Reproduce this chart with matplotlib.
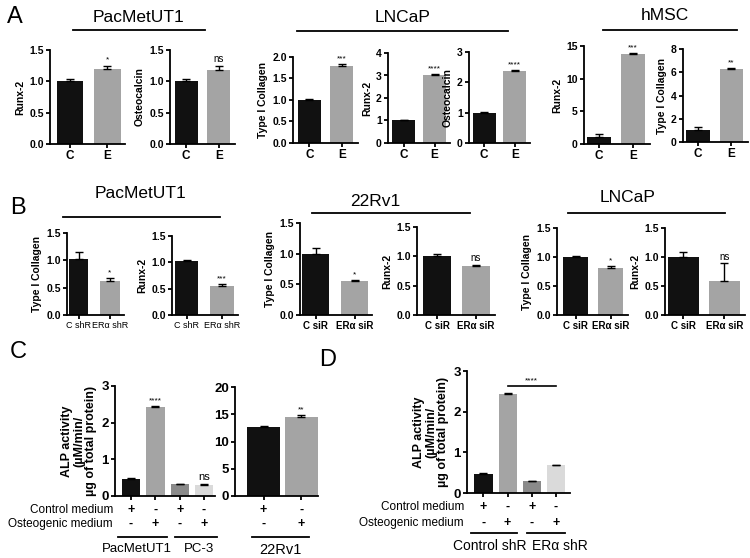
import matplotlib
matplotlib.use('Agg')
import matplotlib.pyplot as plt
from matplotlib import transforms

W, H = 750, 558
plt.rcParams['font.family'] = ['Liberation Sans', 'DejaVu Sans']

# ---- panel A : control (C) vs estrogen (E)
ce_labels = ['C', 'E']
pac_runx2 = [1.00, 1.20]
pac_runx2_err = [0.04, 0.05]
pac_osteo = [1.00, 1.18]
pac_osteo_err = [0.03, 0.06]
lncap_col1 = [1.00, 1.78]
lncap_col1_err = [0.02, 0.06]
lncap_runx2 = [1.00, 3.02]
lncap_runx2_err = [0.0, 0.04]
lncap_osteo = [1.00, 2.37]
lncap_osteo_err = [0.03, 0.04]
hmsc_runx2 = [1.00, 13.7]
hmsc_runx2_err = [0.5, 0.25]
hmsc_col1 = [1.00, 6.3]
hmsc_col1_err = [0.3, 0.05]

# ---- panel B : knockdown
shr_labels = ['C shR', 'ERα shR']
sir_labels = ['C siR', 'ERα siR']
pacb_col1 = [1.03, 0.63]
pacb_col1_err = [0.12, 0.04]
pacb_runx2 = [1.02, 0.56]
pacb_runx2_err = [0.02, 0.02]
rv_col1 = [1.00, 0.55]
rv_col1_err = [0.10, 0.02]
rv_runx2 = [1.00, 0.83]
rv_runx2_err = [0.04, 0.03]
lnb_col1 = [1.00, 0.81]
lnb_col1_err = [0.02, 0.03]
lnb_runx2 = [1.00, 0.58]
lnb_runx2_err = [0.08, 0.31]

# ---- panel C / D : ALP activity
control_medium = ['+', '-', '+', '-']
osteo_medium = ['-', '+', '-', '+']
c_alp = [0.47, 2.43, 0.33, 0.31]
c_alp_err = [0.01, 0.02, 0.0, 0.02]
c_groups = ['PacMetUT1', 'PC-3']
rv_alp = [12.6, 14.5]
rv_alp_err = [0.2, 0.3]
d_alp = [0.47, 2.43, 0.29, 0.68]
d_alp_err = [0.01, 0.02, 0.01, 0.02]
d_groups = ['Control shR', 'ERα shR']

BLACK = '#111111'
GREY = '#a4a4a4'
DGREY = '#8a8a8a'
LGREY = '#dadada'

fig = plt.figure(figsize=(W / 100, H / 100), dpi=100)


def px_axes(left, top, right, bottom):
    return fig.add_axes([left / W, 1 - bottom / H, (right - left) / W, (bottom - top) / H])


def fy(py):
    return 1 - py / H


def bar_panel(rect, vals, errs, colors, ylim, yticks, fmt, ylabel, xlim, width,
              xlabels=None, xl_bold=True, xl_size=8.5, sig=None, tick_size=7.5, ylab_size=7.5):
    ax = px_axes(*rect)
    x = list(range(len(vals)))
    ax.bar(x, vals, width=width, color=colors, edgecolor='none', zorder=2)
    ax.errorbar(x, vals, yerr=[[0] * len(vals), errs], fmt='none', ecolor='black',
                elinewidth=1, capsize=3, capthick=1, zorder=3)
    ax.set_xlim(*xlim)
    ax.set_ylim(*ylim)
    ax.set_yticks(yticks)
    ax.set_yticklabels([fmt.format(v) for v in yticks], fontsize=tick_size, fontweight='bold')
    ax.set_xticks(x)
    if xlabels is not None:
        ax.set_xticklabels(xlabels, fontsize=xl_size, fontweight='bold' if xl_bold else 'normal')
    else:
        ax.set_xticklabels([])
    for s in ['top', 'right']:
        ax.spines[s].set_visible(False)
    for s in ['left', 'bottom']:
        ax.spines[s].set_linewidth(1.3)
    ax.tick_params(width=1.3, length=3, pad=1.5)
    ax.set_ylabel(ylabel, fontsize=ylab_size, fontweight='bold', labelpad=3)
    if sig:
        i = 1
        top = vals[i] + errs[i]
        ax.text(i, top + (ylim[1] - ylim[0]) * 0.02, sig, ha='center', va='bottom',
                fontsize=6 if sig != 'ns' else 7, zorder=4)
    return ax


two = [BLACK, GREY]

# ---------------- row A
bar_panel((50, 50, 125, 144), pac_runx2, pac_runx2_err, two, (0, 1.5), [0, 0.5, 1.0, 1.5],
          '{:.1f}', 'Runx-2', (-0.53, 1.47), 0.7, ce_labels, sig='*')
bar_panel((170, 50, 235, 144), pac_osteo, pac_osteo_err, two, (0, 1.5), [0, 0.5, 1.0, 1.5],
          '{:.1f}', 'Osteocalcin', (-0.5, 1.5), 0.7, ce_labels, sig='ns')
bar_panel((293, 57, 358, 143), lncap_col1, lncap_col1_err, two, (0, 2.0), [0, 0.5, 1.0, 1.5, 2.0],
          '{:.1f}', 'Type I Collagen', (-0.5, 1.5), 0.7, ce_labels, sig='***')
bar_panel((388, 53, 450, 143), lncap_runx2, lncap_runx2_err, two, (0, 4), [0, 1, 2, 3, 4],
          '{:.0f}', 'Runx-2', (-0.5, 1.5), 0.75, ce_labels, sig='****')
bar_panel((469, 52, 530, 143), lncap_osteo, lncap_osteo_err, two, (0, 3), [0, 1, 2, 3],
          '{:.0f}', 'Osteocalcin', (-0.5, 1.5), 0.75, ce_labels, sig='****')
bar_panel((584, 46, 650, 144), hmsc_runx2, hmsc_runx2_err, two, (0, 15), [0, 5, 10, 15],
          '{:.0f}', 'Runx-2', (-0.45, 1.5), 0.7, ce_labels, sig='***')
bar_panel((683, 49, 748, 142), hmsc_col1, hmsc_col1_err, two, (0, 8), [0, 2, 4, 6, 8],
          '{:.0f}', 'Type I Collagen', (-0.45, 1.5), 0.7, ce_labels, sig='**')

# ---------------- row B
bt = [0, 0.5, 1.0, 1.5]
bar_panel((67, 233, 124, 315), pacb_col1, pacb_col1_err, two, (0, 1.5), bt, '{:.1f}',
          'Type I Collagen', (-0.38, 1.45), 0.62, shr_labels, xl_bold=False, xl_size=6.5, sig='*')
bar_panel((172, 236, 238, 315), pacb_runx2, pacb_runx2_err, two, (0, 1.5), bt, '{:.1f}',
          'Runx-2', (-0.42, 1.45), 0.66, shr_labels, xl_bold=False, xl_size=6.5, sig='***')
bar_panel((300, 223, 372, 315), rv_col1, rv_col1_err, two, (0, 1.5), bt, '{:.1f}',
          'Type I Collagen', (-0.41, 1.45), 0.7, sir_labels, xl_size=7, sig='*')
bar_panel((417, 227, 495, 315), rv_runx2, rv_runx2_err, two, (0, 1.5), bt, '{:.1f}',
          'Runx-2', (-0.53, 1.5), 0.73, sir_labels, xl_size=7, sig='ns')
bar_panel((557, 228, 628, 315), lnb_col1, lnb_col1_err, two, (0, 1.5), bt, '{:.1f}',
          'Type I Collagen', (-0.53, 1.5), 0.72, sir_labels, xl_size=7, sig='*')
bar_panel((665, 228, 745, 315), lnb_runx2, lnb_runx2_err, two, (0, 1.5), bt, '{:.1f}',
          'Runx-2', (-0.45, 1.5), 0.75, sir_labels, xl_size=7, sig='ns')

# ---------------- row C / D
alp_label = 'ALP activity\n(µM/min/\nµg of total protein)'
four = [BLACK, GREY, DGREY, LGREY]

axc1 = bar_panel((115, 386, 215, 496), c_alp, c_alp_err, four, (0, 3), [0, 1, 2, 3], '{:.0f}',
                 alp_label, (-0.66, 3.45), 0.75, None, tick_size=9.5, ylab_size=9)
axc1.yaxis.label.set_linespacing(1.0)
axc1.text(1, c_alp[1] + c_alp_err[1] + 0.05, '****', ha='center', va='bottom', fontsize=6)
axc1.text(3, c_alp[3] + c_alp_err[3] + 0.05, 'ns', ha='center', va='bottom', fontsize=8)

axc2 = bar_panel((235, 387, 318, 496), rv_alp, rv_alp_err, two, (0, 20), [0, 5, 10, 15, 20],
                 '{:.0f}', '', (-0.76, 1.45), 0.88, None, tick_size=9.5)
axc2.text(1, rv_alp[1] + rv_alp_err[1] + 0.3, '**', ha='center', va='bottom', fontsize=6)

axd = bar_panel((467, 371, 570, 493), d_alp, d_alp_err, four, (0, 3), [0, 1, 2, 3], '{:.0f}',
                alp_label, (-0.68, 3.58), 0.75, None, tick_size=9.5, ylab_size=9)
axd.yaxis.label.set_linespacing(1.0)
sig_y = 2.63
axd.plot([1, 3], [sig_y, sig_y], color='black', lw=1.2, clip_on=False)
axd.text(2, sig_y + 0.05, '****', ha='center', va='bottom', fontsize=6)


def medium_rows(ax, cm, om, row_y, label_x, groups, spans, centers, line_y, group_y, gsize=9.5):
    tr = transforms.blended_transform_factory(ax.transData, fig.transFigure)
    for i, (a, b) in enumerate(zip(cm, om)):
        ax.text(i, fy(row_y[0]), a, transform=tr, ha='center', va='center', fontsize=9,
                fontweight='bold')
        ax.text(i, fy(row_y[1]), b, transform=tr, ha='center', va='center', fontsize=9,
                fontweight='bold')
    if label_x is not None:
        fig.text(label_x / W, fy(row_y[0]), 'Control medium', ha='right', va='center', fontsize=8.5)
        fig.text(label_x / W, fy(row_y[1]), 'Osteogenic medium', ha='right', va='center', fontsize=8.5)
    for name, (s0, s1), cx in zip(groups, spans, centers):
        ax.plot([s0, s1], [fy(line_y)] * 2, transform=tr, color='black', lw=1.3, clip_on=False)
        ax.text(cx, fy(group_y), name, transform=tr, ha='center', va='center', fontsize=gsize)


medium_rows(axc1, control_medium, osteo_medium, (510, 524), 113, c_groups,
            [(-0.53, 1.48), (1.81, 3.54)], [0.25, 2.8], 537, 549)
medium_rows(axc2, control_medium[:2], osteo_medium[:2], (510, 524), None, ['22Rv1'],
            [(-0.3, 1.2)], [0.44], 537, 550, gsize=10.5)
medium_rows(axd, control_medium, osteo_medium, (507, 523), 464, d_groups,
            [(-0.52, 1.39), (1.8, 3.37)], [0.25, 3.15], 533, 546, gsize=10)

# ---------------- headers
def header(text, cx, cy, x0, x1, ly, size=12.5):
    fig.text(cx / W, fy(cy), text, ha='center', va='center', fontsize=size)
    fig.add_artist(plt.Line2D([x0 / W, x1 / W], [fy(ly)] * 2, color='black', lw=1.3))


header('PacMetUT1', 139, 17, 73, 205, 30)
header('LNCaP', 403, 17, 297, 508, 31)
header('hMSC', 665, 16, 603, 737, 30)
header('PacMetUT1', 140, 193, 63, 220, 217)
header('22Rv1', 375, 202, 312, 470, 213)
header('LNCaP', 628, 198, 568, 725, 213)

for letter, px, py in [('A', 15, 17), ('B', 18, 208), ('C', 18, 352), ('D', 328, 360)]:
    fig.text(px / W, fy(py), letter, ha='center', va='center', fontsize=17)

fig.savefig('out.png', dpi=100)
